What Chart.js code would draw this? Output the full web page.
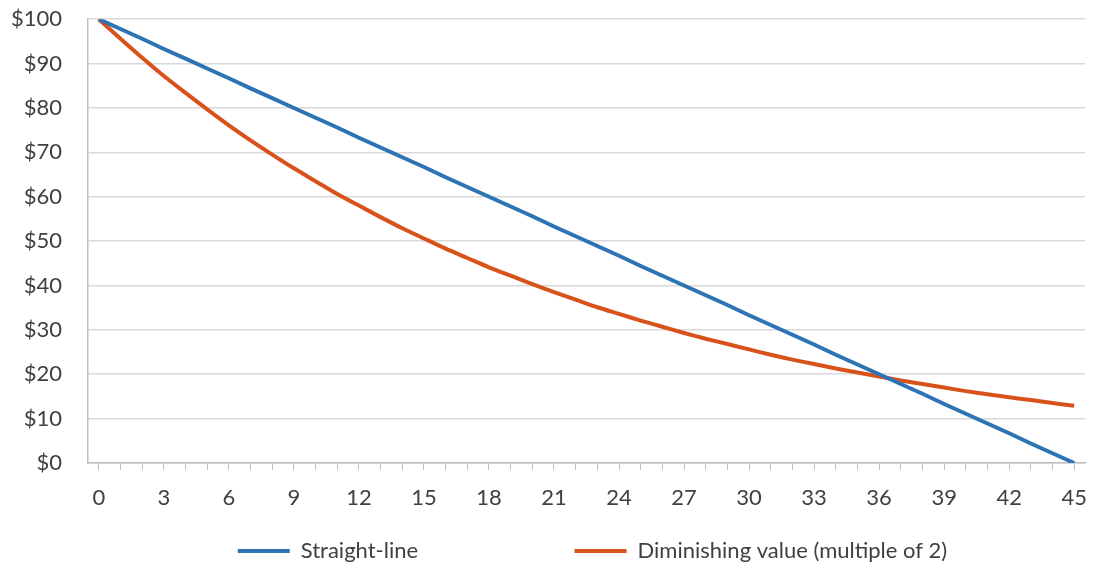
<!DOCTYPE html>
<html>
<head>
<meta charset="utf-8">
<script src="https://cdn.jsdelivr.net/npm/chart.js@4.4.0/dist/chart.umd.min.js"></script>
<style>
  html, body { margin: 0; padding: 0; background: #fff; }
  #wrap { width: 1102px; height: 565px; }
</style>
</head>
<body>
<div id="wrap"><canvas id="depChart" width="1102" height="565"></canvas></div>
<script>
// Periods 0..45
const periods = [0, 1, 2, 3, 4, 5, 6, 7, 8, 9, 10, 11, 12, 13, 14, 15, 16, 17, 18, 19, 20, 21, 22,
    23, 24, 25, 26, 27, 28, 29, 30, 31, 32, 33, 34, 35, 36, 37, 38, 39, 40, 41, 42, 43, 44, 45];

// Straight-line value
const straightLine = [100, 97.8, 95.6, 93.3, 91.1, 88.9, 86.7, 84.4, 82.2, 80, 77.8, 75.6, 73.3,
    71.1, 68.9, 66.7, 64.4, 62.2, 60, 57.8, 55.6, 53.3, 51.1, 48.9, 46.7, 44.4, 42.2, 40, 37.8,
    35.6, 33.3, 31.1, 28.9, 26.7, 24.4, 22.2, 20, 17.8, 15.6, 13.3, 11.1, 8.9, 6.7, 4.4, 2.2, 0];

// Diminishing value (multiple of 2)
const diminishing = [100, 95.6, 91.3, 87.2, 83.4, 79.7, 76.1, 72.7, 69.5, 66.4, 63.5, 60.6, 58.0,
    55.4, 52.9, 50.6, 48.3, 46.2, 44.1, 42.2, 40.3, 38.5, 36.8, 35.1, 33.6, 32.1, 30.7, 29.3, 28.0,
    26.8, 25.6, 24.4, 23.3, 22.3, 21.3, 20.4, 19.5, 18.6, 17.8, 17.0, 16.2, 15.5, 14.8, 14.2, 13.5, 12.9];

const seriesNames = ["Straight-line", "Diminishing value (multiple of 2)"];
const yMin = 0, yMax = 100, yStep = 10;

const FONT = "Lato, 'Open Sans', sans-serif";
const TEXT = "#404040";
const GRID = "#d9d9d9";
const AXIS = "#bfbfbf";

// nudge the legend so it sits centred under the plot area, like Excel does
const legendShift = {
    id: "legendShift",
    afterLayout(chart) {
        if (chart.legend) chart.legend.left += 78;
    }
};

const ctx = document.getElementById("depChart").getContext("2d");

new Chart(ctx, {
    type: "line",
    data: {
        labels: periods,
        datasets: [
            { label: seriesNames[0], data: straightLine, borderColor: "#2E74B5", backgroundColor: "#2E74B5",
              borderWidth: 4, pointRadius: 0, tension: 0 },
            { label: seriesNames[1], data: diminishing, borderColor: "#D8531C", backgroundColor: "#D8531C",
              borderWidth: 4, pointRadius: 0, tension: 0.3 }
        ]
    },
    plugins: [legendShift],
    options: {
        responsive: false,
        animation: false,
        layout: { padding: { left: 10, right: 5, top: 0, bottom: -7 } },
        plugins: {
            tooltip: { enabled: false },
            legend: {
                position: "bottom",
                labels: {
                    color: TEXT,
                    font: { family: FONT, size: 22 },
                    boxWidth: 52,
                    boxHeight: 4,
                    padding: 10,
                    generateLabels: chart => Chart.defaults.plugins.legend.labels.generateLabels(chart)
                        .map((item, i) => Object.assign(item, {
                            lineWidth: 0,
                            text: i === 0 ? item.text + "                          " : item.text
                        }))
                }
            }
        },
        scales: {
            x: {
                offset: true,
                grid: { drawOnChartArea: false, drawTicks: true, tickLength: 7, color: AXIS, offset: false },
                border: { color: AXIS, width: 1.5 },
                ticks: {
                    autoSkip: false,
                    maxRotation: 0,
                    color: TEXT,
                    font: { family: FONT, size: 22 },
                    padding: 15,
                    callback: (v, i) => (i % 3 === 0 ? String(periods[i]) : "")
                },
                afterFit: scale => { scale.height = 67; }
            },
            y: {
                min: yMin,
                max: yMax,
                grid: { color: GRID, lineWidth: 1.5, drawTicks: true, tickLength: 20, tickColor: "rgba(0,0,0,0)" },
                border: { color: AXIS, width: 1.5 },
                ticks: {
                    stepSize: yStep,
                    color: TEXT,
                    font: { family: FONT, size: 22 },
                    padding: 6,
                    callback: v => "$" + v
                },
                afterFit: scale => { scale.width = 78; }
            }
        }
    }
});
</script>
</body>
</html>
